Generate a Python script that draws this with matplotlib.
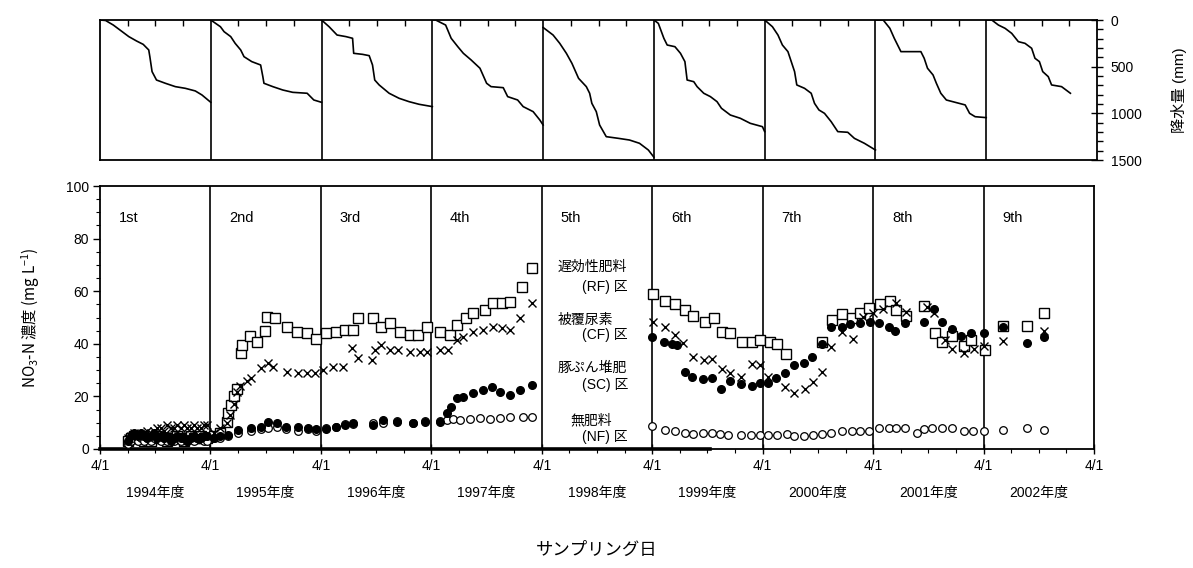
import matplotlib
matplotlib.use('Agg')
import matplotlib.pyplot as plt
import matplotlib.transforms as mtransforms
import numpy as np

plt.rcParams['font.family'] = ['Liberation Sans', 'Noto Sans CJK JP']
plt.rcParams['mathtext.default'] = 'regular'

# 年度 (4/1 始まり)
years = [1994, 1995, 1996, 1997, 1998, 1999, 2000, 2001, 2002]
year_labels = ['1994年度', '1995年度', '1996年度', '1997年度', '1998年度',
               '1999年度', '2000年度', '2001年度', '2002年度']
period_labels = ['1st', '2nd', '3rd', '4th', '5th', '6th', '7th', '8th', '9th']

# 積算降水量 (年度内の経過割合, mm)
rain_frac = [
    [0, 0.05, 0.12, 0.18, 0.26, 0.33, 0.39, 0.44, 0.45, 0.47, 0.51, 0.59, 0.68, 0.77, 0.86, 0.92, 1.0],
    [0, 0.087, 0.12, 0.18, 0.22, 0.27, 0.30, 0.37, 0.45, 0.47, 0.48, 0.56, 0.65, 0.74, 0.87, 0.93, 1.0],
    [0, 0.068, 0.14, 0.22, 0.28, 0.29, 0.37, 0.43, 0.46, 0.48, 0.52, 0.61, 0.70, 0.79, 0.88, 1.0],
    [0, 0.03, 0.12, 0.17, 0.23, 0.28, 0.35, 0.43, 0.49, 0.53, 0.64, 0.68, 0.77, 0.82, 0.91, 0.97, 1.0],
    [0, 0.03, 0.09, 0.15, 0.21, 0.26, 0.32, 0.39, 0.42, 0.44, 0.48, 0.51, 0.57, 0.68, 0.78, 0.87, 0.95, 1.0],
    [0, 0.04, 0.09, 0.12, 0.19, 0.24, 0.28, 0.30, 0.36, 0.39, 0.45, 0.51, 0.57, 0.61, 0.69, 0.78, 0.87, 0.98, 1.0],
    [0, 0.07, 0.12, 0.16, 0.21, 0.24, 0.27, 0.29, 0.36, 0.42, 0.45, 0.49, 0.54, 0.60, 0.66, 0.75, 0.81, 0.90, 1.0],
    [0, 0.07, 0.13, 0.17, 0.23, 0.41, 0.44, 0.47, 0.52, 0.55, 0.59, 0.64, 0.72, 0.81, 0.85, 0.90, 1.0],
    [0, 0.05, 0.11, 0.17, 0.23, 0.29, 0.35, 0.41, 0.44, 0.48, 0.51, 0.56, 0.59, 0.68, 0.76],
]
rain_mm = [
    [0, 5, 54, 107, 178, 225, 261, 321, 393, 553, 643, 678, 714, 732, 760, 803, 882],
    [0, 72, 125, 178, 250, 321, 393, 446, 482, 607, 678, 714, 750, 775, 785, 857, 882],
    [0, 72, 161, 178, 196, 357, 368, 382, 482, 643, 696, 785, 839, 875, 903, 928],
    [0, 0, 54, 196, 286, 357, 428, 517, 678, 714, 725, 821, 857, 928, 982, 1071, 1125],
    [80, 107, 161, 250, 357, 464, 625, 714, 785, 893, 982, 1125, 1250, 1268, 1286, 1321, 1393, 1470],
    [0, 36, 196, 268, 286, 357, 446, 643, 661, 714, 785, 821, 875, 946, 1018, 1053, 1107, 1143, 1196],
    [0, 72, 161, 268, 339, 446, 553, 696, 732, 785, 893, 964, 1000, 1089, 1196, 1203, 1268, 1321, 1393],
    [0, 0, 89, 196, 339, 339, 410, 517, 589, 678, 785, 857, 882, 910, 1000, 1036, 1046],
    [0, 0, 54, 89, 143, 232, 250, 303, 410, 446, 553, 607, 696, 714, 785],
]

# NO3-N 濃度 (mg/L) ・ 採水日は年 (小数)
y1_t = [1994.50, 1994.53, 1994.56, 1994.59, 1994.62, 1994.65, 1994.68, 1994.71,
        1994.74, 1994.77, 1994.80, 1994.83, 1994.86, 1994.89, 1994.92, 1994.95,
        1994.98, 1995.01, 1995.04, 1995.07, 1995.10, 1995.13, 1995.16, 1995.19, 1995.22]

rf_t = y1_t + [
    1995.28, 1995.34, 1995.40, 1995.41, 1995.44, 1995.46, 1995.49, 1995.53, 1995.54,
    1995.61, 1995.67, 1995.74, 1995.76, 1995.83, 1995.94, 1996.03, 1996.12, 1996.21,
    1996.30, 1996.39, 1996.47, 1996.54, 1996.59, 1996.72, 1996.79, 1996.88, 1996.97,
    1997.06, 1997.13, 1997.21,
    1997.33, 1997.42, 1997.48, 1997.56, 1997.63, 1997.74, 1997.81, 1997.89, 1997.96,
    1998.07, 1998.16,
    1999.26, 1999.37, 1999.46, 1999.55, 1999.62, 1999.73, 1999.81, 1999.88, 1999.95,
    2000.06, 2000.15, 2000.23, 2000.32, 2000.38, 2000.46, 2000.79, 2000.88, 2000.97,
    2001.06, 2001.13, 2001.21, 2001.31, 2001.40, 2001.46, 2001.55, 2001.71, 2001.81,
    2001.87, 2001.96, 2002.07, 2002.14, 2002.26, 2002.43, 2002.64, 2002.80]
rf_v = [3, 4, 5, 4, 5, 3, 4, 3, 4, 5, 4, 4, 3, 4, 4, 5, 4, 3, 4, 5, 4, 4, 5, 4, 4,
        5, 6, 10.4, 13.7, 16.7, 20, 23, 36.4, 39.5,
        43, 40.8, 45, 50.3, 49.8, 46.5, 44.6, 44, 42,
        44, 44.6, 45.2, 45.2, 49.8, 49.8, 46.4, 47.9, 44.5,
        43.3, 43.3, 46.4,
        44.5, 43.3, 47, 49.8, 51.7, 52.9, 55.5, 55.5, 56,
        61.7, 69,
        58.9, 56.4, 55.1, 52.8, 50.6, 48.4, 49.7, 44.6, 44,
        40.8, 40.8, 41.4, 40.8, 39.9, 36.1, 40.8, 49, 51.3,
        49.7, 51.8, 53.5, 55.1, 56.4, 52.8, 50.6, 54.4, 44,
        40.8, 43, 39.2, 41.4, 37.6, 46.8, 46.8, 51.8]

cf_t = y1_t + [
    1995.28, 1995.34, 1995.40, 1995.43, 1995.46, 1995.49, 1995.52, 1995.58, 1995.62,
    1995.71, 1995.77, 1995.82, 1995.94, 1996.04, 1996.12, 1996.20,
    1996.27, 1996.36, 1996.45, 1996.53, 1996.59, 1996.71, 1996.74, 1996.79, 1996.88,
    1996.95, 1997.06, 1997.15, 1997.21,
    1997.33, 1997.40, 1997.48, 1997.54, 1997.63, 1997.72, 1997.81, 1997.89, 1997.96,
    1998.05, 1998.16,
    1999.26, 1999.37, 1999.46, 1999.53, 1999.62, 1999.72, 1999.79, 1999.88, 1999.95,
    2000.05, 2000.15, 2000.23, 2000.30, 2000.45, 2000.53, 2000.63, 2000.71, 2000.79,
    2000.87, 2000.97, 2001.07, 2001.16, 2001.25, 2001.34, 2001.46, 2001.55, 2001.74,
    2001.80, 2001.90, 2001.96, 2002.07, 2002.16, 2002.25, 2002.43, 2002.80]
cf_v = [4, 5, 6, 5, 5, 6, 7, 6, 7, 8, 8, 7, 9, 8, 8, 9, 8, 9, 8, 8, 9, 8, 8, 9, 9,
        6, 8, 10, 13, 17, 21.5, 24, 26, 27,
        30.8, 32.7, 31.2, 29.4, 28.9, 28.8, 28.9,
        30, 31.2, 31.2, 38.3, 34.6, 33.8, 37.6, 39.5, 37.6,
        37.6, 37, 37, 37,
        37.6, 37.6, 41.4, 42.7, 44.6, 45.2, 46.4, 46, 45.2,
        49.8, 55.4,
        48.4, 46.3, 43.3, 40.4, 34.9, 33.8, 34.1, 30.3, 29,
        27.5, 32.3, 31.9, 27.3, 23.7, 21.4, 22.7, 25.6, 29.4,
        38.7, 44.6, 41.7, 50.1, 51.8, 53.1, 55.4, 52.2, 53.9,
        51.8, 41.4, 37.9, 36.6, 37.9, 39.2, 41.2, 45]

sc_t = y1_t + [
    1995.28, 1995.34, 1995.41, 1995.50, 1995.62, 1995.71, 1995.77, 1995.85, 1995.93,
    1996.04, 1996.13, 1996.21,
    1996.30, 1996.39, 1996.47, 1996.54, 1996.72, 1996.81, 1996.94, 1997.08, 1997.19,
    1997.33, 1997.39, 1997.43, 1997.48, 1997.54, 1997.63, 1997.72, 1997.80, 1997.87,
    1997.96, 1998.05, 1998.16,
    1999.25, 1999.36, 1999.43, 1999.47, 1999.55, 1999.61, 1999.71, 1999.79, 1999.87,
    1999.95, 2000.05, 2000.15, 2000.23, 2000.30, 2000.37, 2000.45, 2000.53, 2000.62,
    2000.70, 2000.79, 2000.87, 2000.97, 2001.04, 2001.13, 2001.22, 2001.30, 2001.39,
    2001.45, 2001.54, 2001.71, 2001.80, 2001.87, 2001.96, 2002.05, 2002.14, 2002.25,
    2002.43, 2002.64, 2002.80]
sc_v = [3, 5, 6, 5, 6, 5, 4, 5, 6, 4, 5, 4, 5, 3, 4, 5, 4, 4, 3, 4, 5, 4, 4, 5, 5,
        4, 5, 5.3, 7.2, 7.8, 8.5, 10.4, 9.7, 8.5,
        8.5, 7.8, 7.5,
        7.5, 8.5, 9, 9.9, 9.1, 11, 10.4, 9.9, 10.4,
        10.4, 13.5, 16, 19.3, 19.9, 21.3, 22.4, 23.7, 21.8,
        20.5, 22.4, 24.3,
        42.7, 40.8, 39.9, 39.5, 29.4, 27.3, 26.5, 26.9, 22.7,
        26, 24.7, 24, 25, 25.2, 26.9, 29, 31.9, 32.8,
        34.9, 39.9, 46.5, 46.3, 47.5, 48, 48.4, 47.8, 46.3,
        45, 48, 48.4, 53.1, 48.4, 45.5, 43, 44.2, 44,
        46.3, 40.4, 42.6]

nf_t = y1_t + [
    1995.28, 1995.34, 1995.41, 1995.50, 1995.62, 1995.71, 1995.77, 1995.85, 1995.93,
    1996.04, 1996.13, 1996.21,
    1996.30, 1996.39, 1996.47, 1996.54, 1996.72, 1996.81, 1996.94, 1997.08, 1997.19,
    1997.33, 1997.39, 1997.45, 1997.51, 1997.60, 1997.69, 1997.78, 1997.87, 1997.96,
    1998.08, 1998.16,
    1999.25, 1999.37, 1999.46, 1999.55, 1999.62, 1999.71, 1999.79, 1999.86, 1999.94,
    2000.05, 2000.14, 2000.23, 2000.30, 2000.38, 2000.47, 2000.53, 2000.62, 2000.71,
    2000.79, 2000.87, 2000.97, 2001.06, 2001.13, 2001.21, 2001.30, 2001.39, 2001.46,
    2001.54, 2001.65, 2001.71, 2001.78, 2001.87, 2001.96, 2002.07, 2002.15, 2002.25,
    2002.43, 2002.64, 2002.80]
nf_v = [2, 3, 4, 3, 4, 3, 4, 3, 4, 4, 3, 4, 3, 4, 3, 4, 3, 4, 3, 4, 3, 4, 4, 3, 3,
        4, 4, 5, 6, 7, 7.5, 8, 8.5, 7.5,
        7, 7.5, 7,
        8, 8.5, 9.5, 9.5, 10, 10, 10.5, 10, 10.5,
        10.5, 11, 11.5, 11, 11.5, 11.8, 11.5, 11.8, 12,
        12.2, 12.3,
        8.7, 7.2, 7, 6, 5.7, 6.2, 6, 5.7, 5.3,
        5.3, 5.3, 5.3, 5.3, 5.3, 5.7, 4.9, 4.9, 5.3,
        5.7, 6.2, 7, 7, 7, 7, 7.9, 7.9, 7.9,
        7.9, 6.2, 7.5, 7.9, 7.9, 7.9, 7, 7, 7,
        7.2, 7.9, 7.2]

# 試験区ラベル (1行目, 2行目, 1行目のy, 2行目のy, 1行目の左端)
plot_names = [('遅効性肥料', '(RF) 区', 69.2, 61.6, 1998.39),
              ('被覆尿素', '(CF) 区', 49.0, 43.3, 1998.39),
              ('豚ぷん堆肥', '(SC) 区', 30.8, 24.3, 1998.39),
              ('無肥料', '(NF) 区', 11.0, 4.6, 1998.51)]
name_right = 1999.03
baseline_end = 1999.77

W, H = 1193, 568
fig = plt.figure(figsize=(W / 100, H / 100), dpi=100)
ax_r = fig.add_axes([100 / W, 1 - 160 / H, 997 / W, 140 / H])
ax = fig.add_axes([100 / W, 1 - 449 / H, 994 / W, 263 / H])

x0, x1 = years[0] + 0.25, years[-1] + 1.25

# ---- 上段: 積算降水量 ----
for y, fr, mm in zip(years, rain_frac, rain_mm):
    ax_r.plot(y + 0.25 + np.array(fr), mm, color='k', lw=1.2)
for y in years[1:]:
    ax_r.axvline(y + 0.25, color='k', lw=1.2)
ax_r.set_xlim(x0, x1)
ax_r.set_ylim(1500, 0)
ax_r.yaxis.tick_right()
ax_r.set_yticks([0, 500, 1000, 1500])
ax_r.set_yticks(np.arange(0, 1501, 100), minor=True)
ax_r.tick_params(axis='y', which='major', direction='inout', length=8, width=1, pad=6, labelsize=10)
ax_r.tick_params(axis='y', which='minor', direction='out', length=4, width=1)
ax_r.xaxis.tick_top()
ax_r.set_xticks([])
ax_r.set_xticks([y + 0.25 + q for y in years for q in (0.25, 0.5, 0.75)], minor=True)
ax_r.tick_params(axis='x', which='minor', direction='in', length=4, width=1)
for s in ax_r.spines.values():
    s.set_linewidth(1.3)
ax_r.text(1.082, 0.5, '降水量 (mm)', transform=ax_r.transAxes, rotation=90,
          ha='center', va='center', fontsize=11)

# ---- 下段: NO3-N 濃度 ----
for y in years[1:]:
    ax.axvline(y + 0.25, color='k', lw=1.2, zorder=1)
ax.plot([x0, baseline_end], [0, 0], color='k', lw=2.6, zorder=2, clip_on=False)

ax.plot(rf_t, rf_v, ls='none', marker='s', ms=6.5, mfc='white', mec='k', mew=1.0, zorder=3)
ax.plot(cf_t, cf_v, ls='none', marker='x', ms=6, color='k', mew=1.0, zorder=4)
ax.plot(nf_t, nf_v, ls='none', marker='o', ms=5.5, mfc='white', mec='k', mew=0.9, zorder=3)
ax.plot(sc_t, sc_v, ls='none', marker='o', ms=5.5, color='k', zorder=5)

ax.set_xlim(x0, x1)
ax.set_ylim(0, 100)
ax.set_xticks([y + 0.25 for y in years] + [x1])
ax.set_xticklabels(['4/1'] * (len(years) + 1))
ax.set_xticks([y + 0.25 + q for y in years for q in (0.25, 0.5, 0.75)], minor=True)
ax.tick_params(axis='x', which='major', direction='inout', length=7, width=1, pad=4, labelsize=10)
ax.tick_params(axis='x', which='minor', direction='out', length=3, width=0.8)
ax.set_yticks(range(0, 101, 20))
ax.set_yticks(range(0, 101, 5), minor=True)
ax.tick_params(axis='y', which='major', direction='out', length=5, width=1, labelsize=10, pad=3)
ax.tick_params(axis='y', which='minor', direction='out', length=3, width=0.8)
for s in ax.spines.values():
    s.set_linewidth(1.3)

for y, lab in zip(years, period_labels):
    ax.text(y + 0.42, 88, lab, fontsize=10.5, va='center', ha='left')

trans = mtransforms.blended_transform_factory(ax.transData, ax.transAxes)
for y, lab in zip(years, year_labels):
    ax.text(y + 0.75, -0.167, lab, transform=trans, ha='center', va='center', fontsize=10)

for l1, l2, v1, v2, xl in plot_names:
    ax.text(xl, v1, l1, ha='left', va='center', fontsize=10)
    ax.text(name_right, v2, l2, ha='right', va='center', fontsize=10)

ax.text(0.5, -0.384, 'サンプリング日', transform=ax.transAxes, ha='center', va='center', fontsize=12.5)
ax.text(-0.07, 0.5, 'NO$_3$-N 濃度 (mg L$^{-1}$)', transform=ax.transAxes, rotation=90,
        ha='center', va='center', fontsize=11, family='Noto Sans CJK JP')

fig.savefig('out.png', dpi=100)
